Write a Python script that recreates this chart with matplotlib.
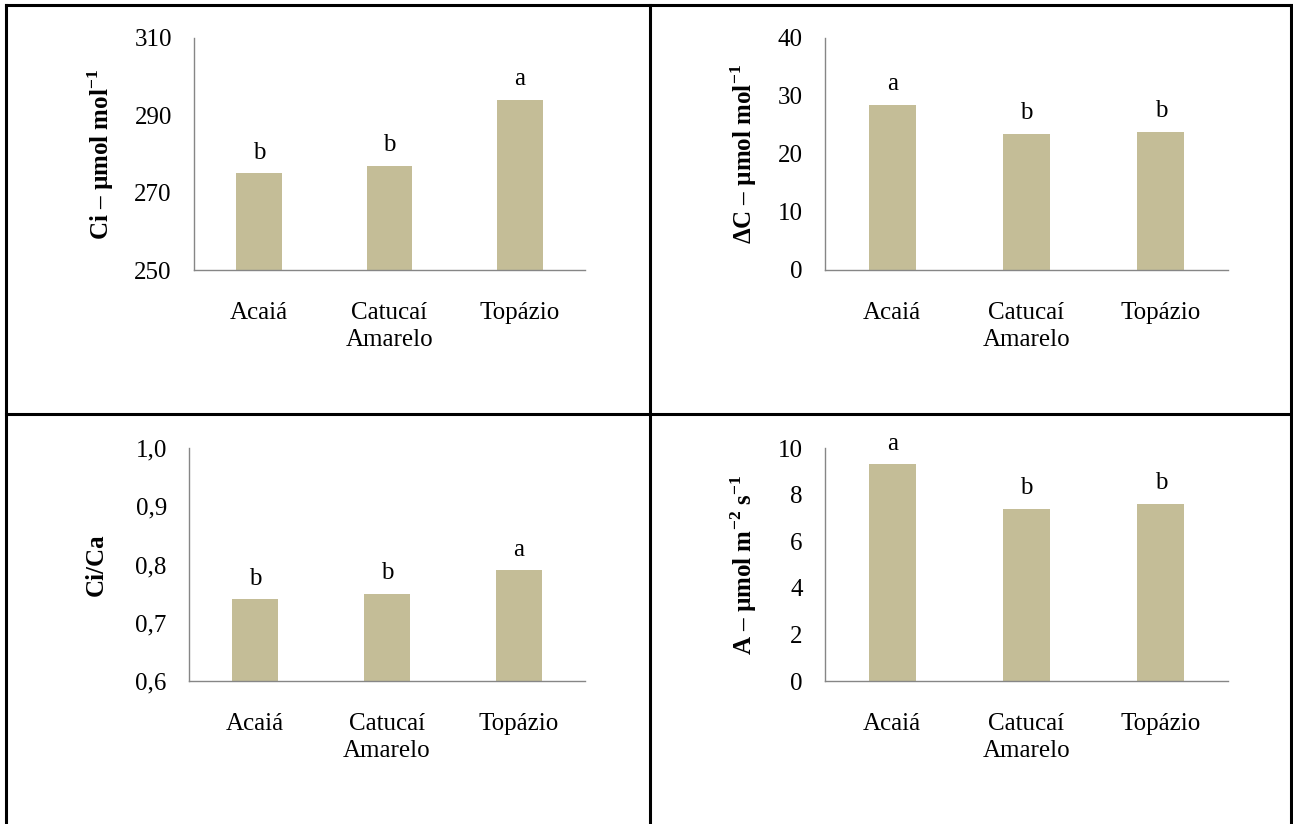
import matplotlib.pyplot as plt
import numpy as np

plt.rcParams['font.family'] = ['Liberation Serif', 'DejaVu Serif']
plt.rcParams['mathtext.fontset'] = 'custom'
plt.rcParams['mathtext.rm'] = 'Liberation Serif'
plt.rcParams['mathtext.bf'] = 'Liberation Serif:bold'

# dados
cultivares = ['Acaiá', 'Catucaí\nAmarelo', 'Topázio']
ci = [275, 277, 294]
ci_letras = ['b', 'b', 'a']
delta_c = [28.5, 23.5, 23.8]
delta_c_letras = ['a', 'b', 'b']
ci_ca = [0.74, 0.75, 0.79]
ci_ca_letras = ['b', 'b', 'a']
a_fot = [9.3, 7.4, 7.6]
a_fot_letras = ['a', 'b', 'b']

cor_barra = '#C4BD97'
W, H = 1293, 824
fs = 18

fig = plt.figure(figsize=(W / 100, H / 100), dpi=100)


def painel(rect, valores, letras, ylim, yticks, yticklabels, ylabel, label_x):
    l, r, t, b = rect
    ax = fig.add_axes([l / W, 1 - b / H, (r - l) / W, (b - t) / H])
    x = np.arange(len(cultivares))
    ax.bar(x, valores, width=0.35, color=cor_barra, zorder=2)
    for xi, v, s in zip(x, valores, letras):
        ax.annotate(s, (xi, v), xytext=(0, 7), textcoords='offset points',
                    ha='center', va='bottom', fontsize=fs)
    ax.set_xlim(-0.5, 2.5)
    ax.set_ylim(*ylim)
    ax.set_yticks(yticks)
    ax.set_yticklabels(yticklabels)
    ax.set_xticks(x)
    ax.set_xticklabels(cultivares, linespacing=1.3)
    ax.tick_params(axis='both', length=0, labelsize=fs)
    ax.tick_params(axis='x', pad=23)
    ax.tick_params(axis='y', pad=16)
    for s in ['top', 'right']:
        ax.spines[s].set_visible(False)
    for s in ['left', 'bottom']:
        ax.spines[s].set_color('#868686')
        ax.spines[s].set_linewidth(1.0)
    ax.set_ylabel(ylabel, fontsize=fs, fontweight='bold')
    ax.yaxis.set_label_coords(label_x, 0.5)
    return ax


painel((194, 585, 38, 270), ci, ci_letras, (250, 310), [250, 270, 290, 310],
       ['250', '270', '290', '310'], r'Ci – µmol mol$^{\mathbf{-1}}$', -0.2)
painel((825, 1228, 38, 270), delta_c, delta_c_letras, (0, 40), [0, 10, 20, 30, 40],
       ['0', '10', '20', '30', '40'], r'ΔC – µmol mol$^{\mathbf{-1}}$', -0.165)
painel((189, 585, 448, 681), ci_ca, ci_ca_letras, (0.6, 1.0), [0.6, 0.7, 0.8, 0.9, 1.0],
       ['0,6', '0,7', '0,8', '0,9', '1,0'], 'Ci/Ca', -0.205)
painel((825, 1228, 448, 681), a_fot, a_fot_letras, (0, 10), [0, 2, 4, 6, 8, 10],
       ['0', '2', '4', '6', '8', '10'], r'A – µmol m$^{\mathbf{-2}}$ s$^{\mathbf{-1}}$', -0.165)

# moldura da tabela
lw = 2.2
fig.add_artist(plt.Line2D([6 / W, 6 / W], [0, 1 - 5 / H], color='k', lw=lw))
fig.add_artist(plt.Line2D([1291 / W, 1291 / W], [0, 1 - 5 / H], color='k', lw=lw))
fig.add_artist(plt.Line2D([6 / W, 1291 / W], [1 - 5 / H, 1 - 5 / H], color='k', lw=lw))
fig.add_artist(plt.Line2D([650 / W, 650 / W], [0, 1 - 5 / H], color='k', lw=lw))
fig.add_artist(plt.Line2D([6 / W, 1291 / W], [1 - 414 / H, 1 - 414 / H], color='k', lw=lw))

fig.savefig('out.png', dpi=100)
